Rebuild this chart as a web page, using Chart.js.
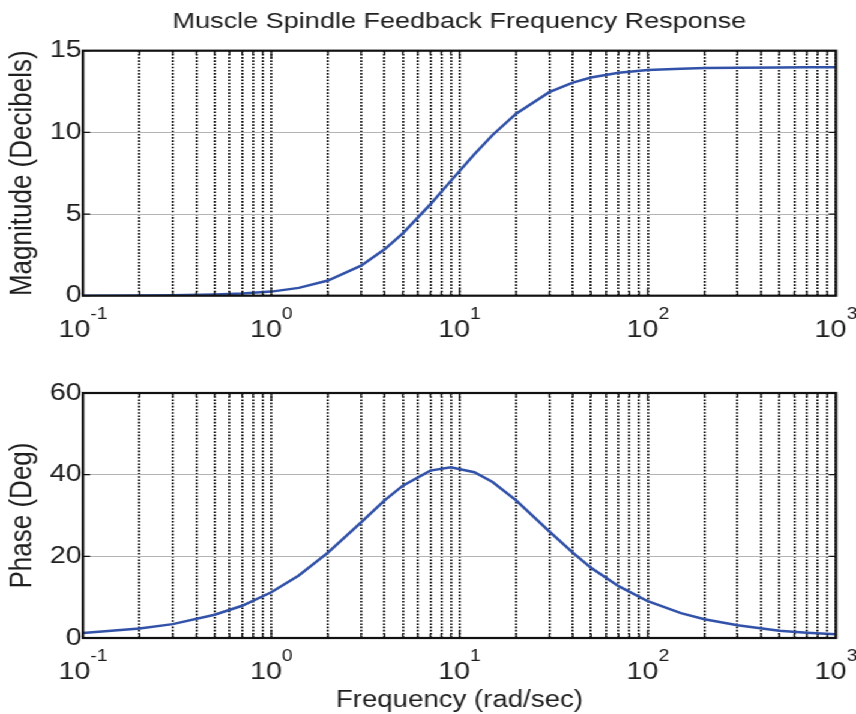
<!DOCTYPE html>
<html>
<head>
<meta charset="utf-8">
<script src="https://cdn.jsdelivr.net/npm/chart.js@4.4.1/dist/chart.umd.min.js"></script>
<style>
  html, body { margin: 0; padding: 0; background: #fff; overflow: hidden; }
  /* the reference figure is stretched horizontally, so draw narrow and scale */
  #wrap { width: 713px; height: 714px; transform: scaleX(1.2006); transform-origin: 0 0; }
  .box { position: relative; width: 713px; }
</style>
</head>
<body>
<div id="wrap">
  <div class="box" style="height:345px"><canvas id="mag"></canvas></div>
  <div class="box" style="height:369px"><canvas id="phase"></canvas></div>
</div>
<script>
// frequency samples (rad/sec) and values
const freq = [0.1, 0.2, 0.3, 0.5, 0.7, 1, 1.4, 2, 3, 4, 5, 7, 9, 12, 15, 20, 30, 40, 50, 70, 100, 150, 200, 300, 500, 700, 1000];
const magDb = [0.0, 0.01, 0.02, 0.07, 0.13, 0.25, 0.48, 0.93, 1.84, 2.84, 3.82, 5.59, 7.03, 8.66, 9.84, 11.14, 12.46, 13.05, 13.36, 13.65, 13.82, 13.9, 13.94, 13.96, 13.97, 13.98, 13.98];
const phaseDeg = [1.2, 2.3, 3.4, 5.7, 7.9, 11.2, 15.3, 20.9, 28.3, 33.7, 37.3, 41.0, 41.8, 40.6, 38.2, 33.7, 26.1, 20.9, 17.2, 12.7, 9.0, 6.1, 4.6, 3.1, 1.8, 1.3, 0.9];

// x grid: every 1..9 multiple of each decade
const xGrid = [0.1, 0.2, 0.3, 0.4, 0.5, 0.6, 0.7, 0.8, 0.9,
  1, 2, 3, 4, 5, 6, 7, 8, 9,
  10, 20, 30, 40, 50, 60, 70, 80, 90,
  100, 200, 300, 400, 500, 600, 700, 800, 900, 1000];
const xTickValues = [0.1, 1, 10, 100, 1000];
const xTickExps = ['-1', '0', '1', '2', '3'];

const FONT = "'Liberation Sans', Arial, Helvetica, sans-serif";
const TXT = '#1e1e1e';

const isDecade = v => Math.abs(Math.log10(v) - Math.round(Math.log10(v))) < 1e-9;

// box, inward ticks, 10^n labels and title (MATLAB look)
const framePlugin = {
  id: 'frame',
  afterDraw(chart, args, opts) {
    const { ctx, chartArea: a, scales } = chart;
    const x = scales.x, y = scales.y;
    ctx.save();
    ctx.strokeStyle = '#111';
    ctx.lineWidth = 1.3;
    ctx.beginPath();
    y.ticks.forEach(t => {
      const py = y.getPixelForValue(t.value);
      ctx.moveTo(a.left, py); ctx.lineTo(a.left + 6, py);
      ctx.moveTo(a.right, py); ctx.lineTo(a.right - 6, py);
    });
    x.ticks.forEach(t => {
      const px = x.getPixelForValue(t.value);
      const len = isDecade(t.value) ? 8 : 4;
      ctx.moveTo(px, a.bottom); ctx.lineTo(px, a.bottom - len);
      ctx.moveTo(px, a.top); ctx.lineTo(px, a.top + len);
    });
    ctx.stroke();
    ctx.lineWidth = 2.2;
    ctx.strokeRect(a.left, a.top, a.right - a.left, a.bottom - a.top);

    // decade labels with superscript exponent
    ctx.fillStyle = TXT;
    ctx.textBaseline = 'alphabetic';
    ctx.textAlign = 'left';
    const base = a.bottom + 41;
    xTickValues.forEach((v, i) => {
      const px = x.getPixelForValue(v);
      ctx.font = '24px ' + FONT;
      const w1 = ctx.measureText('10').width;
      ctx.font = '16px ' + FONT;
      const w2 = ctx.measureText(xTickExps[i]).width;
      const sx = px - (w1 + w2) / 2;
      ctx.font = '24px ' + FONT;
      ctx.fillText('10', sx, base);
      ctx.font = '16px ' + FONT;
      ctx.fillText(xTickExps[i], sx + w1, base - 18);
    });

    if (opts.title) {
      ctx.font = '22.5px ' + FONT;
      ctx.textAlign = 'center';
      ctx.fillText(opts.title, (a.left + a.right) / 2, 28);
    }
    ctx.restore();
  }
};

function xScale(height, title) {
  return {
    type: 'logarithmic',
    min: 0.1,
    max: 1000,
    afterBuildTicks: s => { s.ticks = xGrid.map(v => ({ value: v })); },
    afterFit: s => { s.height = height; },
    ticks: { display: false, autoSkip: false },
    grid: { color: '#000', lineWidth: 1.7, drawTicks: false },
    border: { display: false, dash: [1.6, 1.6] },
    title: {
      display: !!title,
      text: title,
      color: TXT,
      font: { family: FONT, size: 23 },
      padding: { top: 0, bottom: 0 }
    }
  };
}

function yScale(max, step, title) {
  return {
    min: 0,
    max: max,
    afterFit: s => { s.width = 69.13; },
    ticks: { stepSize: step, color: TXT, padding: 1, font: { family: FONT, size: 24 } },
    grid: { color: '#b4b4b4', lineWidth: 1, drawTicks: false },
    border: { display: false },
    title: {
      display: true,
      text: title,
      color: TXT,
      font: { family: FONT, size: 26 },
      padding: { top: 3.5, bottom: 0 }
    }
  };
}

function makeChart(id, values, cfg) {
  return new Chart(document.getElementById(id), {
    type: 'line',
    plugins: [framePlugin],
    data: {
      datasets: [{
        data: freq.map((f, i) => ({ x: f, y: values[i] })),
        borderColor: '#3152a8',
        borderWidth: 2.5,
        pointRadius: 0,
        tension: 0,
        fill: false
      }]
    },
    options: {
      responsive: true,
      maintainAspectRatio: false,
      animation: false,
      layout: { padding: { top: cfg.top, left: 0, right: 16.7, bottom: 0 } },
      scales: { x: cfg.x, y: cfg.y },
      plugins: {
        legend: { display: false },
        tooltip: { enabled: false },
        frame: { title: cfg.title }
      }
    }
  });
}

makeChart('mag', magDb, {
  top: 50.7,
  title: 'Muscle Spindle Feedback Frequency Response',
  x: xScale(49.3, ''),
  y: yScale(15, 5, 'Magnitude (Decibels)')
});

makeChart('phase', phaseDeg, {
  top: 48,
  title: '',
  x: xScale(76, 'Frequency (rad/sec)'),
  y: yScale(60, 20, 'Phase (Deg)')
});
</script>
</body>
</html>
